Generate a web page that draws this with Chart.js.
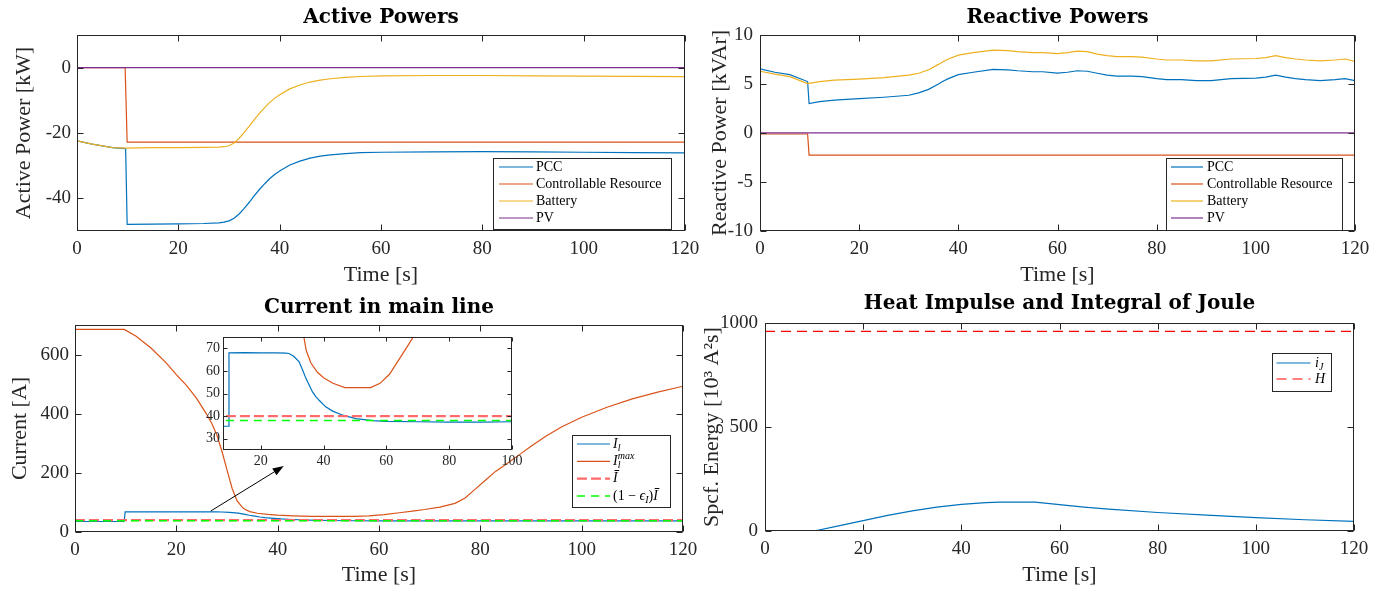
<!DOCTYPE html>
<html lang="en">
<head>
<meta charset="UTF-8">
<title>Powers, Current and Joule Integral</title>
<script src="https://cdn.jsdelivr.net/npm/chart.js"></script>
<style>
    body { margin: 0; background: #fff; }
    .wrap { position: relative; width: 1390px; height: 592px; overflow: hidden; }
    canvas { position: absolute; }
</style>
</head>
<body>
<div class="wrap">
    <canvas id="activeChart" width="705" height="296" style="left:0;top:0"></canvas>
    <canvas id="reactiveChart" width="705" height="296" style="left:685px;top:0"></canvas>
    <canvas id="currentChart" width="705" height="302" style="left:0;top:290px"></canvas>
    <canvas id="heatChart" width="705" height="302" style="left:685px;top:290px"></canvas>
    <canvas id="insetChart" width="330" height="145" style="left:195px;top:330px"></canvas>
</div>
<script>
    const SERIF = '"Liberation Serif", "Times New Roman", serif';
    const TITLE_FONT = '"DejaVu Serif", serif';
    const AX = '#262626';
    const BLUE = '#0072BD', ORANGE = '#D95319', YELLOW = '#EDB120', PURPLE = '#7E2F8E';

    // ---- Active powers [kW]
    const T_ACT_PCC = [0, 3, 7, 9.6, 9.9, 15, 20, 25, 28, 29, 30, 31, 32, 33, 34, 35, 36, 37, 38, 39, 40, 42, 44, 46, 48, 50, 53, 56, 60, 70, 80, 90, 100, 110, 120];
    const P_PCC = [-22.4, -23.4, -24.5, -24.8, -48.0, -47.9, -47.8, -47.7, -47.5, -47.3, -46.9, -46.1, -44.8, -43.1, -41.2, -39.2, -37.3, -35.6, -34.0, -32.7, -31.6, -29.8, -28.6, -27.7, -27.1, -26.7, -26.3, -26.0, -25.9, -25.8, -25.7, -25.8, -25.9, -26.0, -26.1];
    const T_ACT_CR = [0, 9.5, 9.9, 120];
    const P_CR = [0, 0, -22.8, -22.8];
    const T_ACT_BAT = [0, 3, 7, 9.6, 15, 20, 25, 28, 29, 30, 31, 32, 33, 34, 35, 36, 37, 38, 39, 40, 42, 44, 46, 48, 50, 53, 56, 60, 70, 80, 90, 100, 110, 120];
    const P_BAT = [-22.4, -23.4, -24.5, -24.6, -24.5, -24.5, -24.4, -24.3, -24.2, -23.9, -23.1, -21.6, -19.8, -17.9, -15.9, -14.0, -12.3, -10.7, -9.4, -8.3, -6.5, -5.3, -4.4, -3.8, -3.4, -2.95, -2.7, -2.5, -2.4, -2.4, -2.5, -2.6, -2.65, -2.75];
    const T_ACT_PV = [0, 120];
    const P_PV = [0, 0];

    // ---- Reactive powers [kVAr]
    const T_Q_PCC = [0, 3, 6, 9.6, 9.9, 12, 15, 20, 25, 30, 32, 34, 36, 37, 38, 40, 43, 47, 50, 52, 55, 57, 60, 62, 64, 66, 68, 70, 72, 75, 77, 80, 82, 85, 88, 91, 95, 100, 102, 104, 106, 108, 110, 113, 116, 118, 120];
    const Q_PCC = [6.55, 6.2, 5.95, 5.25, 3.0, 3.2, 3.35, 3.5, 3.65, 3.85, 4.1, 4.45, 5.0, 5.3, 5.55, 5.95, 6.2, 6.5, 6.45, 6.35, 6.25, 6.25, 6.1, 6.2, 6.35, 6.3, 6.1, 5.9, 5.8, 5.8, 5.75, 5.55, 5.45, 5.45, 5.35, 5.35, 5.55, 5.6, 5.7, 5.9, 5.7, 5.55, 5.45, 5.35, 5.45, 5.55, 5.35];
    const T_Q_BAT = [0, 3, 6, 9.6, 12, 15, 20, 25, 30, 32, 34, 36, 37, 38, 40, 43, 47, 50, 52, 55, 57, 60, 62, 64, 66, 68, 70, 72, 75, 77, 80, 82, 85, 88, 91, 95, 100, 102, 104, 106, 108, 110, 113, 116, 118, 120];
    const Q_BAT = [6.3, 6.0, 5.75, 5.05, 5.25, 5.4, 5.5, 5.65, 5.9, 6.1, 6.45, 7.0, 7.3, 7.55, 7.95, 8.2, 8.45, 8.4, 8.3, 8.2, 8.2, 8.1, 8.2, 8.35, 8.3, 8.05, 7.9, 7.8, 7.8, 7.75, 7.55, 7.45, 7.45, 7.35, 7.35, 7.55, 7.6, 7.7, 7.9, 7.7, 7.55, 7.45, 7.35, 7.45, 7.55, 7.3];
    const T_Q_CR = [0, 9.6, 9.9, 120];
    const Q_CR = [-0.1, -0.1, -2.25, -2.25];
    const T_Q_PV = [0, 120];
    const Q_PV = [0.02, 0.02];

    // ---- Current in main line [A]
    const T_IL = [0, 9.7, 9.9, 15, 20, 25, 28, 29, 30.5, 32.2, 33.3, 34.4, 35.5, 36.5, 37.5, 38.6, 40.7, 42.9, 46.1, 50.3, 55.6, 60, 70, 80, 90, 100, 110, 120];
    const I_L = [35.5, 35.5, 68, 68.1, 68, 68, 67.9, 67.7, 66.5, 64.1, 60.5, 56.7, 53.5, 50.7, 48.7, 47.0, 44.1, 42.2, 40.4, 38.9, 38.0, 37.7, 37.5, 37.3, 37.3, 37.5, 37.5, 37.5];
    const T_IMAX = [0, 9.7, 12, 15, 18, 20, 22, 24, 26, 27, 28, 29, 30, 31, 32, 33, 33.5, 34.5, 36, 38, 40, 43, 46.8, 55, 58, 61, 64, 67, 69, 72, 75, 77, 79, 81, 83, 85, 88, 90, 93, 96, 100, 105, 110, 115, 120];
    const I_MAX = [685, 685, 663, 622, 572, 532, 496, 452, 398, 367, 328, 273, 210, 148, 105, 84, 77, 69, 63.5, 59.5, 57, 54.5, 52.6, 52.6, 54.5, 58.5, 65, 71.5, 76, 84, 97, 115, 145, 175, 205, 228, 265, 290, 325, 355, 388, 422, 450, 473, 493];
    const T_REF = [0, 120];
    const I_BAR = [40, 40];
    const I_EPS = [38, 38];
    const ARROW_T = [26.8, 41.2];
    const ARROW_I = [71, 223];

    // ---- Heat impulse [10^3 A^2 s]
    const T_J = [0, 10, 15, 20, 25, 30, 35, 40, 45, 48, 55, 58, 60, 65, 70, 80, 90, 100, 110, 120];
    const I_J = [0, 0, 25, 50, 75, 97, 115, 128, 136, 139, 139, 132, 127, 115, 105, 89, 76, 64, 54, 46];
    const H_LIM = [960, 960];

    // ---- ticks and legend labels
    const TIME_TICKS = [0, 20, 40, 60, 80, 100, 120];
    const ACT_Y_TICKS = [-40, -20, 0];
    const REACT_Y_TICKS = [-10, -5, 0, 5, 10];
    const CUR_Y_TICKS = [0, 200, 400, 600];
    const HEAT_Y_TICKS = [0, 500, 1000];
    const INSET_X_TICKS = [20, 40, 60, 80, 100];
    const INSET_Y_TICKS = [30, 40, 50, 60, 70];

    const POWER_LABELS = ['PCC', 'Controllable Resource', 'Battery', 'PV'];
    const CURRENT_LABELS = [
        [{t: 'I', it: 1}, {t: 'l', it: 1, pos: 'sub'}],
        [{t: 'I', it: 1}, {t: 'l', it: 1, pos: 'sub', stay: 1}, {t: 'max', it: 1, pos: 'sup'}],
        [{t: 'I', it: 1, over: 1}],
        [{t: '(1 \u2212 '}, {t: '\u03f5', it: 1}, {t: 'I', it: 1, pos: 'sub'}, {t: ')'}, {t: 'I', it: 1, over: 1}]
    ];
    const HEAT_LABELS = [
        [{t: 'i', it: 1}, {t: 'J', it: 1, pos: 'sub'}],
        [{t: 'H', it: 1}]
    ];

    function pts(t, v) {
        return t.map((x, i) => ({x: x, y: v[i]}));
    }

    function series(t, v, color, order, extra) {
        return Object.assign({
            data: pts(t, v), borderColor: color, borderWidth: 1.2,
            pointRadius: 0, tension: 0, fill: false, order: order
        }, extra || {});
    }

    function xAxis(min, max, ticks, h, title, titlePad, labelPad, size) {
        return {
            type: 'linear', position: 'bottom', min: min, max: max,
            grid: {display: false, drawTicks: false}, border: {display: false},
            afterBuildTicks: s => { s.ticks = ticks.map(v => ({value: v})); },
            afterFit: s => { s.height = h; s.paddingLeft = 0; s.paddingRight = 0; },
            ticks: {color: AX, padding: labelPad, maxRotation: 0, autoSkip: false,
                font: {family: SERIF, size: size, lineHeight: 1.2}, callback: v => String(v)},
            title: {display: !!title, text: title, color: AX,
                font: {family: SERIF, size: 22, lineHeight: 1.2}, padding: {top: 0, bottom: titlePad}}
        };
    }

    function yAxis(min, max, ticks, w, title, titlePad, labelPad, size) {
        return {
            type: 'linear', position: 'left', min: min, max: max,
            grid: {display: false, drawTicks: false}, border: {display: false},
            afterBuildTicks: s => { s.ticks = ticks.map(v => ({value: v})); },
            afterFit: s => { s.width = w; s.paddingTop = 0; s.paddingBottom = 0; },
            ticks: {color: AX, padding: labelPad, autoSkip: false,
                font: {family: SERIF, size: size, lineHeight: 1.2}, callback: v => String(v)},
            title: {display: !!title, text: title, color: AX,
                font: {family: SERIF, size: 22, lineHeight: 1.2}, padding: {top: titlePad, bottom: 0}}
        };
    }

    function titleOpts(text, top, bottom) {
        return {display: true, text: text, fullSize: false, color: '#000',
            font: {family: TITLE_FONT, size: 20, weight: 'bold', lineHeight: 1.2},
            padding: {top: top, bottom: bottom}};
    }

    // MATLAB style box with inward ticks on all four sides
    function boxPlugin(tickLen, fill) {
        return {
            id: 'matlabBox',
            beforeDatasetsDraw(chart) {
                if (!fill) return;
                const a = chart.chartArea;
                chart.ctx.save();
                chart.ctx.fillStyle = fill;
                chart.ctx.fillRect(a.left, a.top, a.right - a.left, a.bottom - a.top);
                chart.ctx.restore();
            },
            afterDatasetsDraw(chart) {
                const ctx = chart.ctx, a = chart.chartArea, x = chart.scales.x, y = chart.scales.y;
                const L = Math.round(a.left) + 0.5, R = Math.round(a.right) - 0.5;
                const T = Math.round(a.top) + 0.5, B = Math.round(a.bottom) - 0.5;
                ctx.save();
                ctx.strokeStyle = AX;
                ctx.lineWidth = 1;
                ctx.beginPath();
                x.ticks.forEach(t => {
                    const p = Math.round(x.getPixelForValue(t.value)) + 0.5;
                    ctx.moveTo(p, B); ctx.lineTo(p, B - tickLen);
                    ctx.moveTo(p, T); ctx.lineTo(p, T + tickLen);
                });
                y.ticks.forEach(t => {
                    const p = Math.round(y.getPixelForValue(t.value)) + 0.5;
                    ctx.moveTo(L, p); ctx.lineTo(L + tickLen, p);
                    ctx.moveTo(R, p); ctx.lineTo(R - tickLen, p);
                });
                ctx.stroke();
                ctx.strokeRect(L, T, R - L, B - T);
                ctx.restore();
            }
        };
    }

    function drawRuns(ctx, runs, x, y, size) {
        ctx.fillStyle = '#000';
        ctx.textBaseline = 'middle';
        ctx.textAlign = 'left';
        runs.forEach(r => {
            const s = r.pos ? Math.round(size * 0.68) : size;
            ctx.font = (r.it ? 'italic ' : '') + s + 'px ' + SERIF;
            const dy = r.pos === 'sub' ? size * 0.3 : (r.pos === 'sup' ? -size * 0.38 : 0);
            ctx.fillText(r.t, x, y + dy);
            const w = ctx.measureText(r.t).width;
            if (r.over) {
                ctx.strokeStyle = '#000';
                ctx.lineWidth = 1;
                ctx.setLineDash([]);
                ctx.beginPath();
                ctx.moveTo(x + 1.5, Math.round(y - size * 0.6) + 0.5);
                ctx.lineTo(x + w + 1.5, Math.round(y - size * 0.6) + 0.5);
                ctx.stroke();
            }
            if (!r.stay) x += w;
        });
    }

    // legend box drawn in canvas pixels, styles taken from the datasets
    function legendPlugin(spec) {
        return {
            id: 'richLegend',
            afterDraw(chart) {
                const ctx = chart.ctx;
                ctx.save();
                ctx.fillStyle = '#fff';
                ctx.fillRect(spec.left, spec.top, spec.width, spec.height);
                ctx.strokeStyle = AX;
                ctx.lineWidth = 1;
                ctx.strokeRect(spec.left + 0.5, spec.top + 0.5, spec.width, spec.height);
                spec.items.forEach((runs, i) => {
                    const ds = chart.data.datasets[i];
                    const y = spec.top + spec.first + i * spec.step;
                    ctx.strokeStyle = ds.borderColor;
                    ctx.lineWidth = ds.borderWidth;
                    ctx.setLineDash(ds.borderDash || []);
                    ctx.beginPath();
                    ctx.moveTo(spec.left + spec.lineFrom, y);
                    ctx.lineTo(spec.left + spec.lineTo, y);
                    ctx.stroke();
                    ctx.setLineDash([]);
                    drawRuns(ctx, typeof runs === 'string' ? [{t: runs}] : runs, spec.left + spec.textAt, y, spec.size);
                });
                ctx.restore();
            }
        };
    }

    function arrowPlugin(ts, vs) {
        return {
            id: 'arrow',
            afterDraw(chart) {
                const ctx = chart.ctx, x = chart.scales.x, y = chart.scales.y;
                const x0 = x.getPixelForValue(ts[0]), y0 = y.getPixelForValue(vs[0]);
                const x1 = x.getPixelForValue(ts[1]), y1 = y.getPixelForValue(vs[1]);
                const ang = Math.atan2(y1 - y0, x1 - x0), hl = 11, hw = 4;
                const bx = x1 - hl * Math.cos(ang), by = y1 - hl * Math.sin(ang);
                ctx.save();
                ctx.strokeStyle = '#000';
                ctx.fillStyle = '#000';
                ctx.lineWidth = 1;
                ctx.beginPath();
                ctx.moveTo(x0, y0);
                ctx.lineTo(bx, by);
                ctx.stroke();
                ctx.beginPath();
                ctx.moveTo(x1, y1);
                ctx.lineTo(bx - hw * Math.sin(ang), by + hw * Math.cos(ang));
                ctx.lineTo(bx + hw * Math.sin(ang), by - hw * Math.cos(ang));
                ctx.closePath();
                ctx.fill();
                ctx.restore();
            }
        };
    }

    const base = {
        responsive: false,
        animation: false,
        events: [],
        devicePixelRatio: 1
    };

    function opts(extra) {
        return Object.assign({}, base, extra);
    }

    const noLegend = {display: false};
    const noTip = {enabled: false};

    // Active powers
    new Chart(document.getElementById('activeChart'), {
        type: 'line',
        data: {datasets: [
            series(T_ACT_PCC, P_PCC, BLUE, 4),
            series(T_ACT_CR, P_CR, ORANGE, 3),
            series(T_ACT_BAT, P_BAT, YELLOW, 2),
            series(T_ACT_PV, P_PV, PURPLE, 1)
        ]},
        options: opts({
            layout: {padding: {left: 0, right: 20, top: 0, bottom: 0}},
            scales: {
                x: xAxis(0, 120, TIME_TICKS, 65, 'Time [s]', 8, 7, 19),
                y: yAxis(-50, 10, ACT_Y_TICKS, 77, 'Active Power [kW]', 11, 6, 19)
            },
            plugins: {legend: noLegend, tooltip: noTip, title: titleOpts('Active Powers', 6, 5)}
        }),
        plugins: [boxPlugin(6), legendPlugin({left: 493, top: 158, width: 178, height: 71,
            first: 9, step: 17, lineFrom: 6, lineTo: 40, textAt: 43, size: 14, items: POWER_LABELS})]
    });

    // Reactive powers
    new Chart(document.getElementById('reactiveChart'), {
        type: 'line',
        data: {datasets: [
            series(T_Q_PCC, Q_PCC, BLUE, 4),
            series(T_Q_CR, Q_CR, ORANGE, 3),
            series(T_Q_BAT, Q_BAT, YELLOW, 2),
            series(T_Q_PV, Q_PV, PURPLE, 1)
        ]},
        options: opts({
            layout: {padding: {left: 0, right: 35, top: 0, bottom: 0}},
            scales: {
                x: xAxis(0, 120, TIME_TICKS, 65, 'Time [s]', 8, 7, 19),
                y: yAxis(-10, 10, REACT_Y_TICKS, 75, 'Reactive Power [kVAr]', 22, 7, 19)
            },
            plugins: {legend: noLegend, tooltip: noTip, title: titleOpts('Reactive Powers', 6, 5)}
        }),
        plugins: [boxPlugin(6), legendPlugin({left: 481, top: 158, width: 176, height: 72,
            first: 9, step: 17, lineFrom: 5, lineTo: 37, textAt: 41, size: 14, items: POWER_LABELS})]
    });

    // Current in main line
    const currentSets = () => [
        series(T_IL, I_L, BLUE, 4),
        series(T_IMAX, I_MAX, ORANGE, 3),
        series(T_REF, I_BAR, '#FF6B6B', 2, {borderWidth: 2.2, borderDash: [10, 4]}),
        series(T_REF, I_EPS, '#00FF00', 1, {borderWidth: 1.5, borderDash: [8, 6]})
    ];

    new Chart(document.getElementById('currentChart'), {
        type: 'line',
        data: {datasets: currentSets()},
        options: opts({
            layout: {padding: {left: 0, right: 22, top: 0, bottom: 0}},
            scales: {
                x: xAxis(0, 120, TIME_TICKS, 60, 'Time [s]', 4, 7, 19),
                y: yAxis(0, 700, CUR_Y_TICKS, 75, 'Current [A]', 7, 6, 19)
            },
            plugins: {legend: noLegend, tooltip: noTip, title: titleOpts('Current in main line', 6, 5)}
        }),
        plugins: [boxPlugin(6), arrowPlugin(ARROW_T, ARROW_I), legendPlugin({left: 572, top: 145, width: 98, height: 72,
            first: 9, step: 17.3, lineFrom: 5, lineTo: 38, textAt: 41, size: 14, items: CURRENT_LABELS})]
    });

    // Inset zoom of the current
    new Chart(document.getElementById('insetChart'), {
        type: 'line',
        data: {datasets: currentSets()},
        options: opts({
            layout: {padding: {left: 0, right: 13, top: 7, bottom: 0}},
            scales: {
                x: xAxis(8, 100, INSET_X_TICKS, 25, '', 0, 3, 14),
                y: yAxis(25, 75, INSET_Y_TICKS, 28, '', 0, 3, 14)
            },
            plugins: {legend: noLegend, tooltip: noTip, title: {display: false}}
        }),
        plugins: [boxPlugin(4, '#fff')]
    });

    // Heat impulse and Joule integral
    new Chart(document.getElementById('heatChart'), {
        type: 'line',
        data: {datasets: [
            series(T_J, I_J, BLUE, 2),
            series(T_REF, H_LIM, '#FF0000', 1, {borderDash: [10, 6]})
        ]},
        options: opts({
            layout: {padding: {left: 0, right: 36, top: 0, bottom: 0}},
            scales: {
                x: xAxis(0, 120, TIME_TICKS, 61, 'Time [s]', 4, 7, 19),
                y: yAxis(0, 1000, HEAT_Y_TICKS, 80, 'Spcf. Energy [10\u00b3 A\u00b2s]', 14, 7, 19)
            },
            plugins: {legend: noLegend, tooltip: noTip, title: titleOpts('Heat Impulse and Integral of Joule', 2, 7)}
        }),
        plugins: [boxPlugin(6), legendPlugin({left: 587, top: 63, width: 59, height: 38,
            first: 10, step: 16, lineFrom: 4.5, lineTo: 38.5, textAt: 43, size: 14, items: HEAT_LABELS})]
    });
</script>
</body>
</html>
